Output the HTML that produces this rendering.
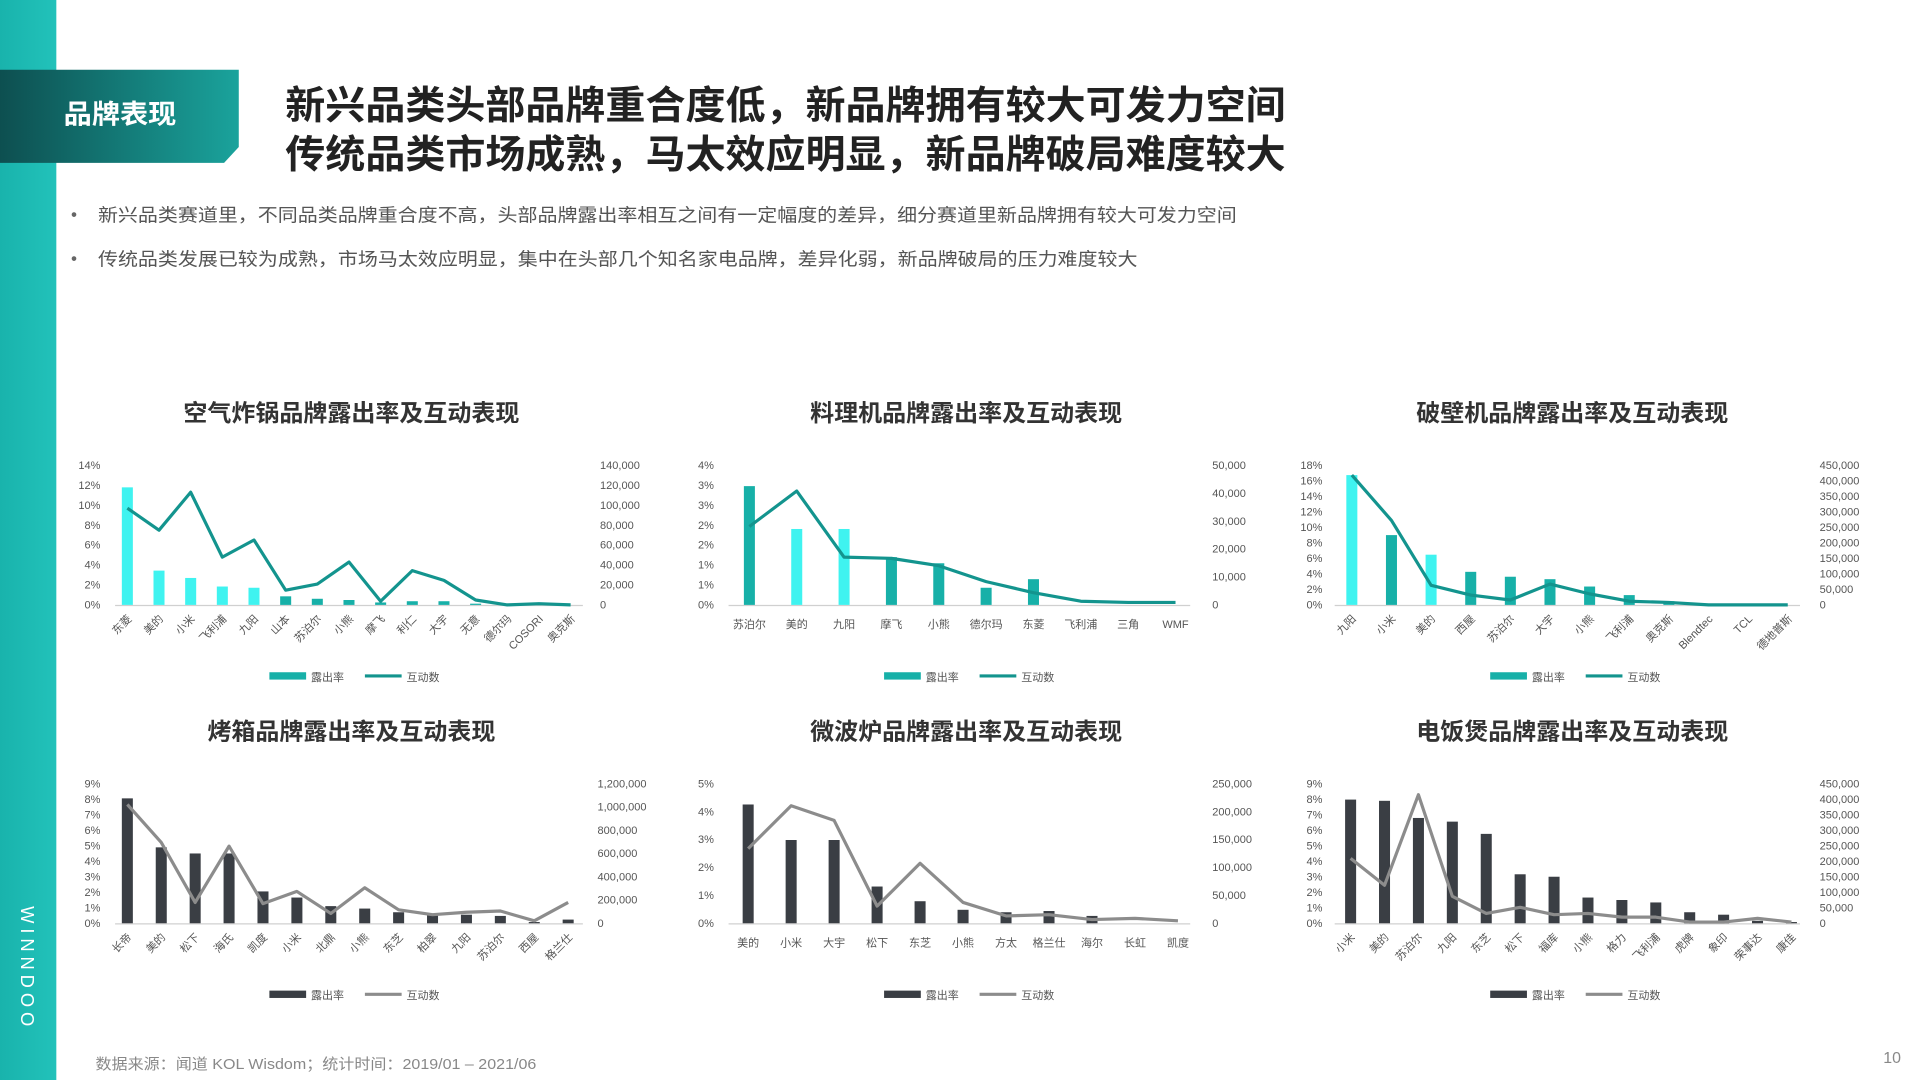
<!DOCTYPE html>
<html><head><meta charset="utf-8"><style>
html,body{margin:0;padding:0;background:#fff;}
svg{display:block;font-family:"Liberation Sans","Noto Sans CJK SC",sans-serif;}
</style></head><body>
<svg id="s" width="1920" height="1080" viewBox="0 0 1568 882" xmlns="http://www.w3.org/2000/svg">
<defs>
<linearGradient id="tg" x1="0" x2="1" y1="0" y2="0"><stop offset="0" stop-color="#0d4f50"/><stop offset="1" stop-color="#1aa39c"/></linearGradient>
<linearGradient id="lb" x1="0" x2="1"><stop offset="0" stop-color="#19b3ac"/><stop offset="1" stop-color="#22c2ba"/></linearGradient>
</defs>
<rect x="0" y="0" width="46" height="882" fill="url(#lb)"/>
<path d="M0 57 H195 V120 L183 133 H0 Z" fill="url(#tg)"/>
<text x="52" y="101" font-size="22" font-weight="bold" fill="#fff" textLength="92" lengthAdjust="spacingAndGlyphs">品牌表现</text>
<text x="233" y="97" font-size="32" font-weight="bold" fill="#222" textLength="817" lengthAdjust="spacingAndGlyphs">新兴品类头部品牌重合度低，新品牌拥有较大可发力空间</text>
<text x="233" y="137" font-size="32" font-weight="bold" fill="#222" textLength="817" lengthAdjust="spacingAndGlyphs">传统品类市场成熟，马太效应明显，新品牌破局难度较大</text>
<text x="58" y="180" font-size="14" fill="#666">•</text>
<text x="80" y="181" font-size="15" fill="#555" textLength="930" lengthAdjust="spacingAndGlyphs">新兴品类赛道里，不同品类品牌重合度不高，头部品牌露出率相互之间有一定幅度的差异，细分赛道里新品牌拥有较大可发力空间</text>
<text x="58" y="216" font-size="14" fill="#666">•</text>
<text x="80" y="217" font-size="15" fill="#555" textLength="849" lengthAdjust="spacingAndGlyphs">传统品类发展已较为成熟，市场马太效应明显，集中在头部几个知名家电品牌，差异化弱，新品牌破局的压力难度较大</text>
<text x="78" y="873" font-size="12" fill="#888" textLength="360" lengthAdjust="spacingAndGlyphs">数据来源：闻道 KOL Wisdom；统计时间：2019/01 – 2021/06</text>
<text x="1538" y="868" font-size="13" fill="#888">10</text>
<text transform="translate(17,740) rotate(90)" font-size="15" fill="#fff" letter-spacing="4">WINNDOO</text>
<g id="charts"></g>
</svg>
<script>
var g=document.getElementById('charts'),NS='http://www.w3.org/2000/svg';
function el(t,a,txt){var e=document.createElementNS(NS,t);for(var k in a)e.setAttribute(k,a[k]);if(txt!=null)e.textContent=txt;g.appendChild(e);return e;}
var C=[
{t:'空气炸锅品牌露出率及互动表现',cx:287,x0:94,x1:476,y0:380,y1:494,lx:82,rx:490,fx:104,lxp:466,
 L:['0%','2%','4%','6%','8%','10%','12%','14%'],R:['0','20,000','40,000','60,000','80,000','100,000','120,000','140,000'],
 c:['东菱','美的','小米','飞利浦','九阳','山本','苏泊尔','小熊','摩飞','利仁','大宇','无意','德尔玛','COSORI','奥克斯'],
 b:[398,466,472,479,480,487,489,490,492,491,491,493,494,494,494],
 l:[415,433,402,455,441,482,477,459,491,466,474,490,494,493,494],rot:1,dark:0,cy:[0],lg:220},
{t:'料理机品牌露出率及互动表现',cx:789,x0:595,x1:972,y0:380,y1:494,lx:583,rx:990,fx:612,lxp:960,
 L:['0%','1%','1%','2%','2%','3%','3%','4%'],R:['0','10,000','20,000','30,000','40,000','50,000'],
 c:['苏泊尔','美的','九阳','摩飞','小熊','德尔玛','东菱','飞利浦','三角','WMF'],
 b:[397,432,432,455,460,480,473,494,494,494],
 l:[430,401,455,456,462,475,484,491,492,492],rot:0,dark:0,cy:[1,2],lg:722},
{t:'破壁机品牌露出率及互动表现',cx:1284,x0:1090,x1:1470,y0:380,y1:494,lx:1080,rx:1486,fx:1104,lxp:1460,
 L:['0%','2%','4%','6%','8%','10%','12%','14%','16%','18%'],R:['0','50,000','100,000','150,000','200,000','250,000','300,000','350,000','400,000','450,000'],
 c:['九阳','小米','美的','西屋','苏泊尔','大宇','小熊','飞利浦','奥克斯','Blendtec','TCL','德地普斯'],
 b:[388,437,453,467,471,473,479,486,491,493,494,494],
 l:[388,425,478,486,490,477,485,491,492,494,494,494],rot:1,dark:0,cy:[0,2],lg:1217},
{t:'烤箱品牌露出率及互动表现',cx:287,x0:94,x1:476,y0:640,y1:754,lx:82,rx:488,fx:104,lxp:464,
 L:['0%','1%','2%','3%','4%','5%','6%','7%','8%','9%'],R:['0','200,000','400,000','600,000','800,000','1,000,000','1,200,000'],
 c:['长帝','美的','松下','海氏','凯度','小米','北鼎','小熊','东芝','柏翠','九阳','苏泊尔','西屋','格兰仕'],
 b:[652,692,697,697,728,733,740,742,745,747,747,748,753,751],
 l:[657,688,737,691,738,728,746,725,743,747,745,744,752,737],rot:1,dark:1,lg:220},
{t:'微波炉品牌露出率及互动表现',cx:789,x0:595,x1:972,y0:640,y1:754,lx:583,rx:990,fx:611,lxp:962,
 L:['0%','1%','2%','3%','4%','5%'],R:['0','50,000','100,000','150,000','200,000','250,000'],
 c:['美的','小米','大宇','松下','东芝','小熊','方太','格兰仕','海尔','长虹','凯度'],
 b:[657,686,686,724,736,743,745,744,748,754,754],
 l:[693,658,670,740,705,737,748,747,751,750,752],rot:0,dark:1,lg:722},
{t:'电饭煲品牌露出率及互动表现',cx:1284,x0:1090,x1:1470,y0:640,y1:754,lx:1080,rx:1486,fx:1103,lxp:1463,
 L:['0%','1%','2%','3%','4%','5%','6%','7%','8%','9%'],R:['0','50,000','100,000','150,000','200,000','250,000','300,000','350,000','400,000','450,000'],
 c:['小米','美的','苏泊尔','九阳','东芝','松下','福库','小熊','格力','飞利浦','虎牌','象印','荣事达','康佳'],
 b:[653,654,668,671,681,714,716,733,735,737,745,747,752,753],
 l:[701,723,649,732,746,741,747,746,749,749,753,753,750,753],rot:1,dark:1,lg:1217}
];
C.forEach(function(o){
 var tl=o.t.length*19.6;
 el('text',{x:o.cx-tl/2,y:o.y0-36,'font-size':19,'font-weight':'bold',fill:'#333',textLength:tl,lengthAdjust:'spacingAndGlyphs'},o.t);
 var h=o.y1-o.y0,n=o.c.length,sp=(o.lxp-o.fx)/(n-1);
 o.L.forEach(function(s,i){el('text',{x:o.lx,y:o.y1-h*i/(o.L.length-1)+3,'font-size':9,fill:'#555','text-anchor':'end'},s);});
 o.R.forEach(function(s,i){el('text',{x:o.rx,y:o.y1-h*i/(o.R.length-1)+3,'font-size':9,fill:'#555'},s);});
 el('line',{x1:o.x0,x2:o.x1,y1:o.y1+0.5,y2:o.y1+0.5,stroke:'#d0d0d0','stroke-width':1});
 var bc=o.dark?'#3a3e44':'#17b0a8',lc=o.dark?'#8c8c8c':'#13948e',pts=[];
 o.c.forEach(function(s,i){
  var x=o.fx+i*sp,col=bc;
  if(!o.dark && (o.cy.indexOf(i)>=0 || (o.t[0]=='空'&&i>0&&i<5)))col='#3ff3f0';
  el('rect',{x:x-4.5,y:o.b[i],width:9,height:Math.max(0,o.y1-o.b[i]),fill:col});
  pts.push(x+','+o.l[i]);
  if(o.rot) el('text',{transform:'translate('+(x+4)+','+(o.y1+12)+') rotate(-45)','font-size':9,fill:'#555','text-anchor':'end'},s);
  else el('text',{x:x,y:o.y1+19,'font-size':9,fill:'#555','text-anchor':'middle'},s);
 });
 el('polyline',{points:pts.join(' '),fill:'none',stroke:lc,'stroke-width':2.6,'stroke-linejoin':'round'});
 var ly=o.y1+58;
 el('rect',{x:o.lg,y:ly-3,width:30,height:6,fill:bc});
 el('text',{x:o.lg+34,y:ly+4,'font-size':9,fill:'#555'},'露出率');
 el('line',{x1:o.lg+78,x2:o.lg+108,y1:ly,y2:ly,stroke:lc,'stroke-width':2.6});
 el('text',{x:o.lg+112,y:ly+4,'font-size':9,fill:'#555'},'互动数');
});
</script>
</body></html>
